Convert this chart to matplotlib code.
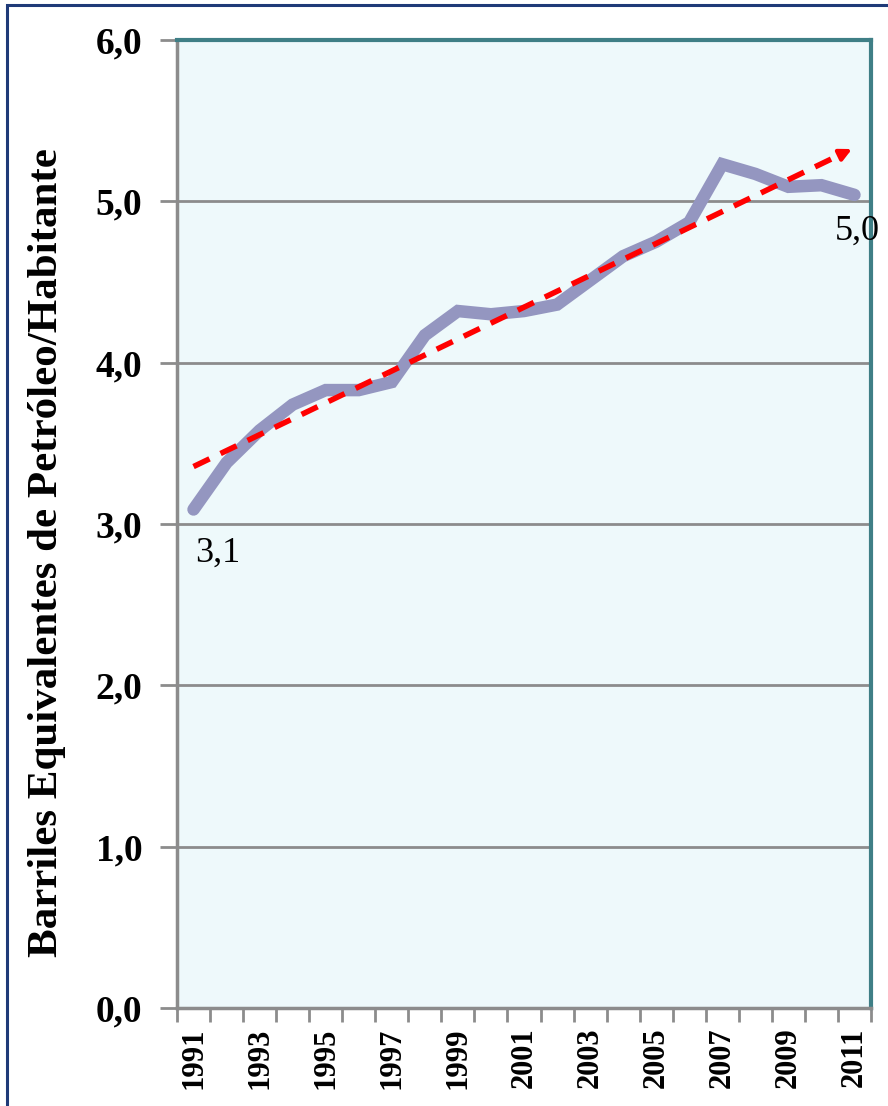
import matplotlib
matplotlib.use("Agg")
import matplotlib.pyplot as plt
import numpy as np
from matplotlib.patches import Rectangle

years = [str(y) for y in range(1991, 2012)]
values = [3.09, 3.38, 3.58, 3.74, 3.83, 3.83, 3.88, 4.17, 4.32, 4.30, 4.32,
          4.36, 4.51, 4.66, 4.75, 4.87, 5.23, 5.17, 5.09, 5.10, 5.04]
yticks = [0, 1, 2, 3, 4, 5, 6]
ytick_labels = ["0,0", "1,0", "2,0", "3,0", "4,0", "5,0", "6,0"]
ylabel = "Barriles Equivalentes de Petróleo/Habitante"
first_label = "3,1"
last_label = "5,0"

plt.rcParams['font.family'] = ['Liberation Serif', 'DejaVu Serif']

fig = plt.figure(figsize=(8.88, 11.06), dpi=100)
fig.patch.set_facecolor('white')
# outer frame
fig.patches.append(Rectangle((7/888, -0.05), 1.2, 1 - 5/1106 + 0.05, transform=fig.transFigure,
                             fill=False, edgecolor='#1F3A78', linewidth=2.2, zorder=0))

ax = fig.add_axes([177/888, 1 - 1008/1106, (871 - 177)/888, (1008 - 40)/1106])
ax.set_facecolor('#EEF9FB')

x = np.arange(len(years))
ax.set_xlim(-0.5, len(years) - 0.5)
ax.set_ylim(0, 6)

for yv in yticks[1:]:
    ax.axhline(yv, color='#8C8C8C', linewidth=2, zorder=1)

ax.plot(x, values, color='#9496C0', linewidth=9, solid_capstyle='round',
        solid_joinstyle='miter', zorder=3)

# linear trend line
coef = np.polyfit(x, values, 1)
tx0, tx1 = 0, len(years) - 1
ty0, ty1 = np.polyval(coef, tx0), np.polyval(coef, tx1)
ax.plot([tx0, tx1 - 0.35], [ty0, ty1 - 0.35 * coef[0]], color='#FF0000', linewidth=4,
        linestyle=(0, (3.2, 2.2)), zorder=4)
ax.annotate('', xy=(tx1, ty1), xytext=(tx1 - 0.4, ty1 - 0.4 * coef[0]),
            arrowprops=dict(arrowstyle='-|>,head_length=0.7,head_width=0.35',
                            color='#FF0000', lw=3), zorder=5)

ax.text(x[0] + 0.74, values[0] - 0.17, first_label, fontsize=26, ha='center', va='top', zorder=6)
ax.text(x[-1] + 0.1, values[-1] - 0.12, last_label, fontsize=26, ha='center', va='top', zorder=6)

ax.set_yticks(yticks)
ax.set_yticklabels(ytick_labels, fontsize=27, fontweight='bold')
ax.tick_params(axis='y', length=12, width=2, color='#8C8C8C', pad=13)

ax.set_xticks(np.arange(-0.5, len(years), 1.0), minor=False)
ax.set_xticklabels([])
ax.set_xticks(x[::2], minor=True)
ax.set_xticklabels(years[::2], minor=True, rotation=90, fontsize=22, fontweight='bold')
ax.tick_params(axis='x', which='major', length=10, width=2, color='#8C8C8C')
ax.tick_params(axis='x', which='minor', length=0, pad=14)

for s in ['left', 'bottom']:
    ax.spines[s].set_color('#8C8C8C')
    ax.spines[s].set_linewidth(2.5)
for s in ['top', 'right']:
    ax.spines[s].set_color('#3F7F86')
    ax.spines[s].set_linewidth(3)

ax.set_ylabel(ylabel, fontsize=31, fontweight='bold')
ax.yaxis.set_label_coords((66 - 177) / 694, (1008 - 553) / 968)

fig.savefig('out.png', dpi=100)
